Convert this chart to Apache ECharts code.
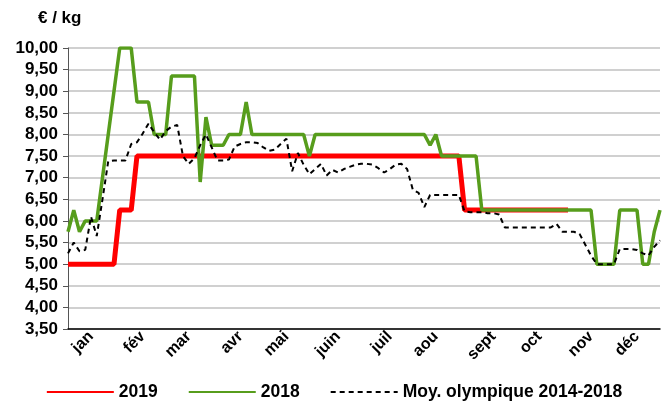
<!DOCTYPE html>
<html>
<head>
<meta charset="utf-8">
<script src="https://cdn.jsdelivr.net/npm/echarts@6/dist/echarts.min.js"></script>
<style>html,body{margin:0;padding:0;background:#fff}#c{width:668px;height:405px}</style>
</head>
<body>
<div id="c"></div>
<script>
// ---- data ----
var months = ['jan','fév','mar','avr','mai','juin','juil','aou','sept','oct','nov','déc'];
var monthAt = [4,13,21,30,38,47,56,64,74,82,91,99]; // category index where each month label sits
var pointCount = 104;
var yTicks = { min: 3.5, max: 10, step: 0.5 };

var s2019 = [5,5,5,5,5,5,5,5,5,6.25,6.25,6.25,
  7.5,7.5,7.5,7.5,7.5,7.5,7.5,7.5,7.5,7.5,7.5,7.5,7.5,7.5,7.5,7.5,7.5,7.5,7.5,7.5,7.5,7.5,7.5,7.5,7.5,7.5,7.5,7.5,
  7.5,7.5,7.5,7.5,7.5,7.5,7.5,7.5,7.5,7.5,7.5,7.5,7.5,7.5,7.5,7.5,7.5,7.5,7.5,7.5,7.5,7.5,7.5,7.5,7.5,7.5,7.5,7.5,7.5,
  6.25,6.25,6.25,6.25,6.25,6.25,6.25,6.25,6.25,6.25,6.25,6.25,6.25,6.25,6.25,6.25,6.25,6.25,6.25,
  null,null,null,null,null,null,null,null,null,null,null,null,null,null,null,null];

var s2018 = [5.75,6.25,5.75,6,6,6,null,null,null,10,10,10,
  8.75,8.75,8.75,8,8,8,9.35,9.35,9.35,9.35,9.35,6.9,8.4,7.75,7.75,7.75,8,8,8,8.75,
  8,8,8,8,8,8,8,8,8,8,7.5,
  8,8,8,8,8,8,8,8,8,8,8,8,8,8,8,8,8,8,8,8,
  7.75,8,7.5,7.5,7.5,7.5,7.5,7.5,7.5,
  6.25,6.25,6.25,6.25,6.25,6.25,6.25,6.25,6.25,6.25,6.25,6.25,6.25,6.25,6.25,6.25,6.25,6.25,6.25,6.25,
  5,5,5,5,6.25,6.25,6.25,6.25,5,5,5.75,6.25];

var sMoy = [5.25,5.5,5.3,5.33,6.1,5.65,6.5,7.38,7.4,7.4,7.4,7.78,7.82,8.02,8.25,8.05,7.88,8.08,8.18,8.22,
  7.5,7.32,7.45,7.75,8,7.7,7.4,7.4,7.42,7.72,7.78,7.82,7.82,7.8,7.7,7.62,7.65,7.78,7.9,7.15,
  7.57,7.3,7.08,7.2,7.32,7.05,7.18,7.12,7.2,7.25,7.3,7.32,7.32,7.3,7.22,7.12,7.2,7.3,7.32,7.2,
  6.72,6.65,6.32,6.6,6.6,6.6,6.6,6.6,6.6,6.22,6.2,6.2,6.2,6.18,6.18,6.15,5.85,
  5.85,5.85,5.85,5.85,5.85,5.85,5.85,5.85,
  5.93,5.75,5.75,5.75,5.7,5.45,5.2,5,5,5,5,5.35,5.35,5.35,5.33,5.25,5.2,5.4,5.55];

var seriesNames = ['2019','2018','Moy. olympique 2014-2018'];

// ---- build categories ----
var categories = [];
for (var i = 0; i < pointCount; i++) categories.push('');
months.forEach(function(m, k){ categories[monthAt[k]] = m; });

var FONT = 'Liberation Sans';
var chart = echarts.init(document.getElementById('c'), null, {renderer:'canvas'});
chart.setOption({
  animation: false,
  backgroundColor: '#fff',
  title: {
    text: '€ / kg', left: 33, top: 5,
    textStyle: { fontFamily: FONT, fontWeight: 'bold', fontSize: 17, color: '#000' }
  },
  legend: {
    data: seriesNames, bottom: 4, left: 'center', padding: 0,
    itemWidth: 67, itemHeight: 14, itemGap: 30,
    itemStyle: { opacity: 0, borderWidth: 0 },
    textStyle: { fontFamily: FONT, fontWeight: 'bold', fontSize: 17.5, color: '#000', padding: [0,0,0,0] }
  },
  grid: { left: 68, right: 8, top: 48, bottom: 76 },
  xAxis: {
    type: 'category', data: categories, boundaryGap: false,
    axisLine: { lineStyle: { color: '#000', width: 1.5 } },
    axisTick: { show: false },
    axisLabel: { interval: 0, rotate: 45, margin: 5, fontFamily: FONT, fontWeight: 'bold', fontSize: 16, color: '#000' },
    splitLine: { show: false }
  },
  yAxis: {
    type: 'value', min: yTicks.min, max: yTicks.max, interval: yTicks.step,
    axisLine: { show: true, lineStyle: { color: '#555', width: 1 } },
    axisTick: { show: true, inside: false, length: 5, lineStyle: { color: '#555' } },
    axisLabel: { margin: 10, fontFamily: FONT, fontWeight: 'bold', fontSize: 17, color: '#000',
      formatter: function(v){ return v.toFixed(2).replace('.', ','); } },
    splitLine: { lineStyle: { color: '#c0c0c0', width: 1.5 } }
  },
  series: [
    { name: seriesNames[0], type: 'line', data: s2019, symbol: 'none', connectNulls: false,
      lineStyle: { color: '#ff0000', width: 5 }, itemStyle: { color: '#ff0000' } },
    { name: seriesNames[1], type: 'line', data: s2018, symbol: 'none', connectNulls: true,
      lineStyle: { color: '#579d1c', width: 3.5 }, itemStyle: { color: '#579d1c' } },
    { name: seriesNames[2], type: 'line', data: sMoy, symbol: 'none',
      lineStyle: { color: '#000', width: 2, type: [5,4] }, itemStyle: { color: '#000' } }
  ]
});
</script>
</body>
</html>
